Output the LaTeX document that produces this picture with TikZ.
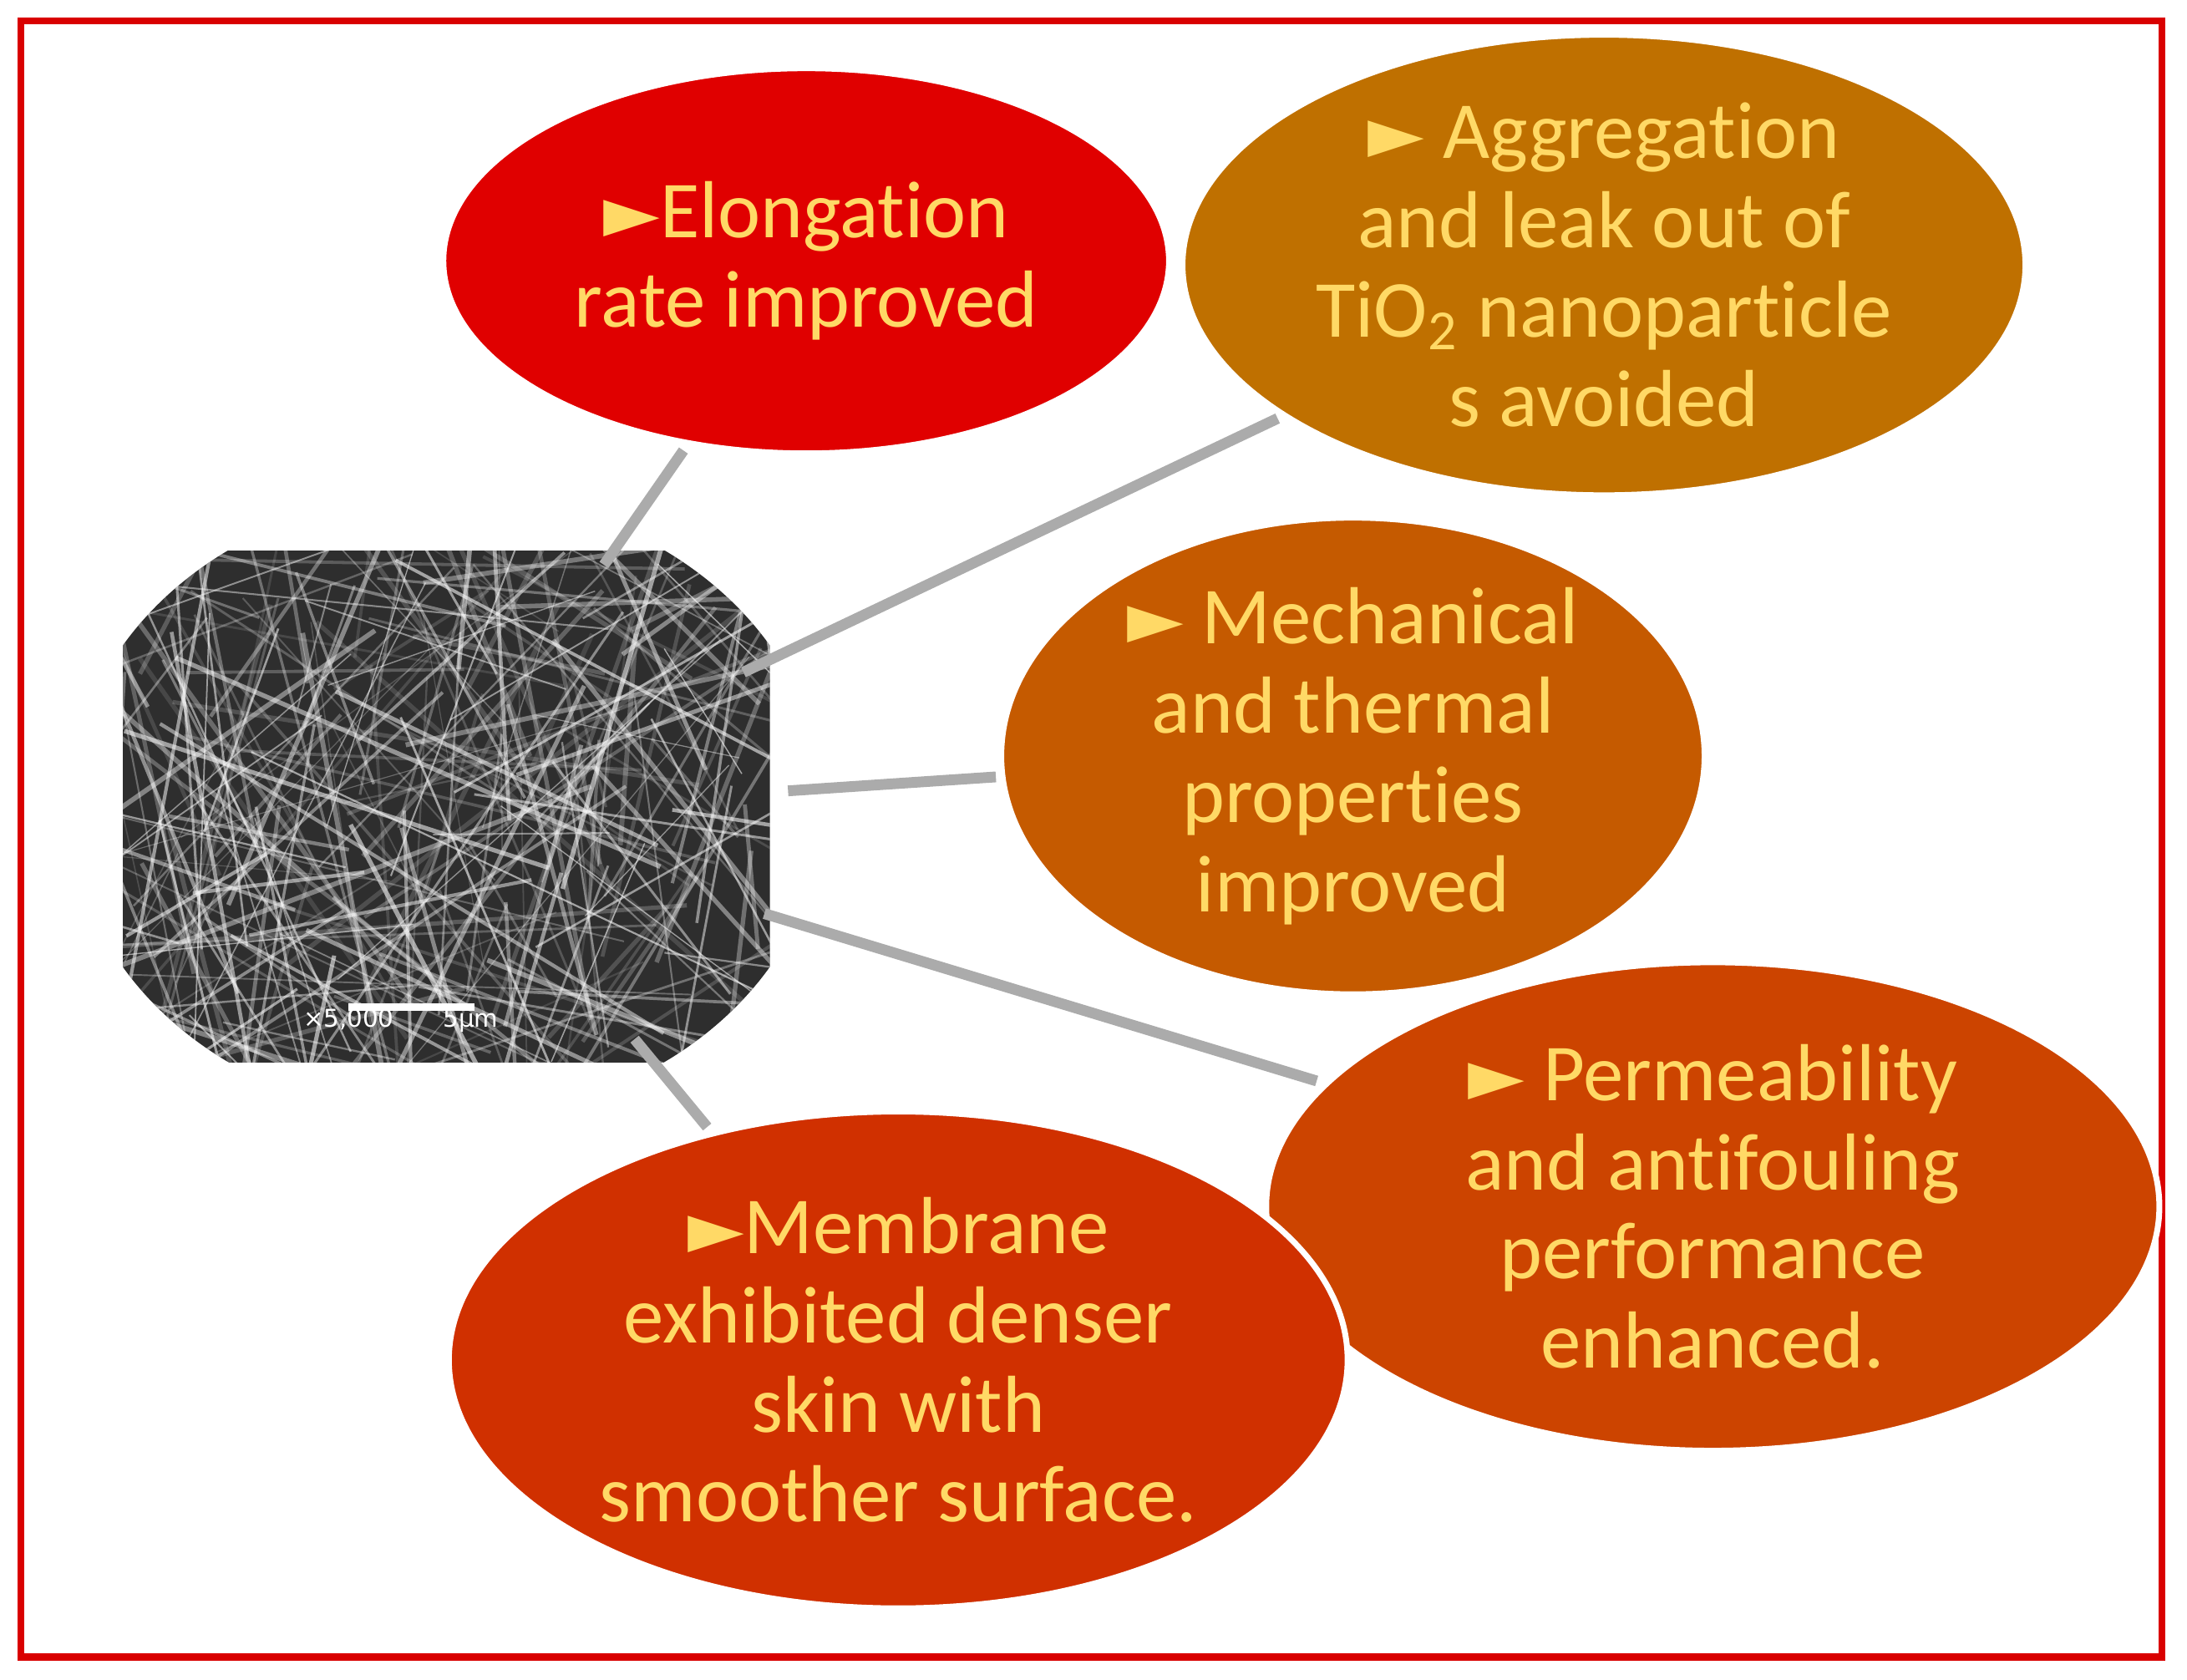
\documentclass[tikz,border=0pt]{standalone}
\usepackage{fontspec}
\setmainfont[Ligatures=NoCommon]{Carlito}
\newfontfamily\symf{DejaVu Sans}
\usetikzlibrary{shapes.geometric,calc}
\definecolor{txt}{HTML}{FFD966}
\definecolor{cA}{HTML}{E00000}
\definecolor{cB}{HTML}{BF7000}
\definecolor{cC}{HTML}{C55A00}
\definecolor{cD}{HTML}{CC4400}
\definecolor{cE}{HTML}{D03000}
\newcommand{\tri}{{\symf\fontsize{15}{15}\selectfont ►}}
\begin{document}
\begin{tikzpicture}[x=0.01cm,y=-0.01cm,
  bub/.style={ellipse,draw=white,line width=1.2pt,text=txt,align=center,inner sep=0pt,
    font=\fontsize{16.5}{18.2}\selectfont},
  conn/.style={draw=black!33,line width=2.2pt}]
\useasboundingbox (0,0) rectangle (1568,1204);
\draw[red!85!black,line width=1.5pt] (15,15) rectangle (1550,1188);
% SEM image
\begin{scope}
  \clip (88,395) rectangle (552,762);
  \clip (320,578) ellipse [x radius=270, y radius=225];
  \fill[black!82] (88,395) rectangle (552,762);
  \pgfmathsetseed{7}
  \foreach \i in {1,...,260}{
    \pgfmathsetmacro{\cx}{80+rnd*480}
    \pgfmathsetmacro{\cy}{390+rnd*380}
    \pgfmathsetmacro{\an}{rnd*180}
    \pgfmathsetmacro{\op}{0.12+rnd*0.45}
    \pgfmathsetmacro{\lw}{0.2+rnd*0.8}
    \pgfmathsetmacro{\ln}{40+rnd*180}
    \draw[white,opacity=\op,line width=\lw pt] ($(\cx,\cy)+(\an:\ln)$) -- ($(\cx,\cy)+(\an+180:\ln)$);
  }
  \draw[white,line width=1.5pt] (250,722) -- (340,722);
  \node[white,font=\symf\fontsize{5}{5}\selectfont,anchor=west] (lab) at (205,732) {×5,000\qquad 5μm};
\end{scope}
\coordinate (i1) at (433,405); \coordinate (e1) at (490,323);
\coordinate (i2) at (533,482); \coordinate (e2) at (916,300);
\coordinate (i3) at (565,567); \coordinate (e3) at (714,557);
\coordinate (i4) at (548,655); \coordinate (e4) at (944,775);
\coordinate (i5) at (455,745); \coordinate (e5) at (507,808);
\draw[conn] (i1)--(e1); \draw[conn] (i2)--(e2); \draw[conn] (i3)--(e3);
\draw[conn] (i4)--(e4); \draw[conn] (i5)--(e5);
\node[bub,fill=cA,minimum width=5.2cm,minimum height=2.76cm] (A) at (578,187) {\tri Elongation\\rate improved};
\node[bub,fill=cB,minimum width=6.04cm,minimum height=3.3cm] (B) at (1150,190) {\tri\ Aggregation\\and leak out of\\TiO\textsubscript{2} nanoparticle\\s avoided};
\node[bub,fill=cC,minimum width=5.04cm,minimum height=3.2cm] (C) at (970,542) {\tri\ Mechanical\\and thermal\\properties\\improved};
\node[bub,fill=cD,minimum width=6.4cm,minimum height=3.5cm] (D) at (1228,865) {\tri\ Permeability\\and antifouling\\performance\\enhanced.};
\node[bub,fill=cE,minimum width=6.44cm,minimum height=3.56cm] (E) at (644,975) {\tri Membrane\\exhibited denser\\skin with\\smoother surface.};
\end{tikzpicture}
\end{document}
